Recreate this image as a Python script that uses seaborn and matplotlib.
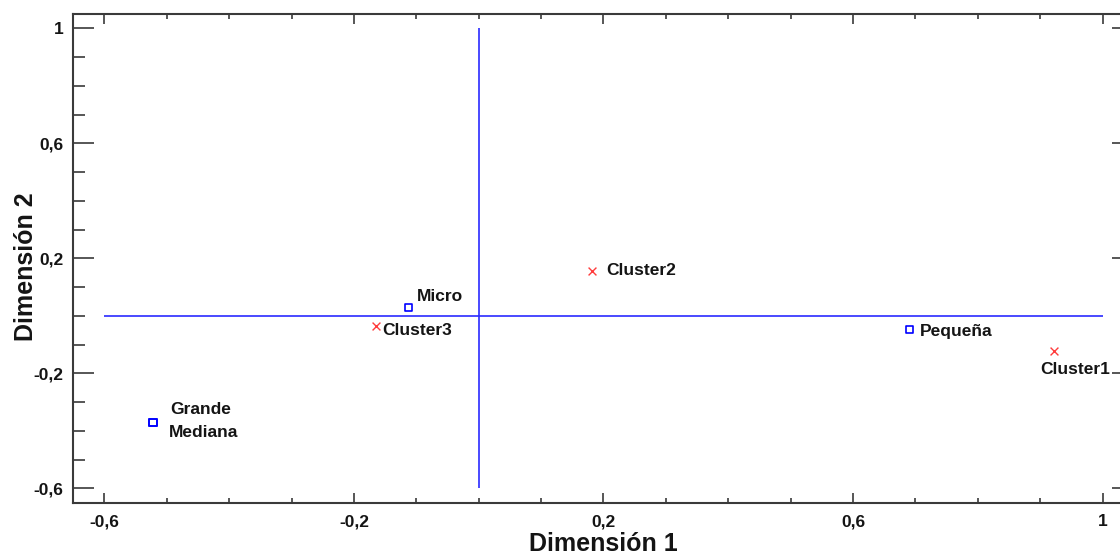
import pandas as pd
import seaborn as sns
import matplotlib.pyplot as plt
from matplotlib.ticker import FixedLocator, MultipleLocator

## Coordenadas
tamanos = ['Micro', 'Pequeña', 'Grande', 'Mediana']
tam_dim1 = [-0.113, 0.690, -0.522, -0.522]
tam_dim2 = [0.030, -0.049, -0.372, -0.372]

clusters = ['Cluster1', 'Cluster2', 'Cluster3']
clu_dim1 = [0.922, 0.181, -0.165]
clu_dim2 = [-0.121, 0.156, -0.036]

tick_vals = [-0.6, -0.2, 0.2, 0.6, 1.0]
tick_labels = ['-0,6', '-0,2', '0,2', '0,6', '1']

df_tam = pd.DataFrame({'nombre': tamanos, 'dim1': tam_dim1, 'dim2': tam_dim2})
df_clu = pd.DataFrame({'nombre': clusters, 'dim1': clu_dim1, 'dim2': clu_dim2})

# desplazamiento de cada etiqueta respecto al punto (en puntos)
label_offset = {'Micro': (6, 8), 'Pequeña': (8, -1), 'Grande': (12.5, 9.5),
                'Mediana': (11.5, -6.7), 'Cluster1': (-10, -13.4),
                'Cluster2': (10.8, 0), 'Cluster3': (5, -3.4)}

sns.set_style('white')
plt.rcParams['font.family'] = ['Liberation Sans', 'DejaVu Sans']
txt_color = '#141414'
axis_color = '#3a3a3a'

fig = plt.figure(figsize=(11.2, 5.54), dpi=100)
ax = fig.add_axes([73.3/1120, (554-503.3)/554, (1133-73.3)/1120, (503.3-14)/554])

# ejes de referencia
ax.hlines(0, tick_vals[0], tick_vals[-1], color='#2a2aff', lw=1.2, zorder=1)
ax.vlines(0, tick_vals[0], tick_vals[-1], color='#2a2aff', lw=1.2, zorder=1)

sns.scatterplot(data=df_tam, x='dim1', y='dim2', marker='s', s=26,
                facecolor='none', edgecolor='#0000ff', linewidth=1.2,
                ax=ax, zorder=3)
sns.scatterplot(data=df_clu, x='dim1', y='dim2', marker='x', s=32,
                color='#ff3b3b', linewidth=1.0, ax=ax, zorder=3)

for df in (df_tam, df_clu):
    for _, row in df.iterrows():
        ax.annotate(row['nombre'], (row['dim1'], row['dim2']),
                    xytext=label_offset[row['nombre']], textcoords='offset points',
                    ha='left', va='center', fontsize=12.5, fontweight='bold',
                    color=txt_color)

ax.set_xlim(-0.6497, 1.0486)
ax.set_ylim(-0.652, 1.0497)

for axis in (ax.xaxis, ax.yaxis):
    axis.set_major_locator(FixedLocator(tick_vals))
    axis.set_minor_locator(MultipleLocator(0.1))
ax.set_xticklabels(tick_labels, fontsize=12.5, fontweight='bold', color=txt_color)
ax.set_yticklabels(tick_labels, fontsize=12.5, fontweight='bold', color=txt_color)

ax.tick_params(axis='x', which='both', direction='in', top=True, bottom=True,
               width=1.2, color=axis_color)
ax.tick_params(axis='x', which='major', length=7.2, pad=8)
ax.tick_params(axis='x', which='minor', length=3.6)
ax.tick_params(axis='y', which='both', direction='in', left=True,
               width=1.2, color=axis_color)
ax.tick_params(axis='y', which='major', length=15, pad=7, right=True)
ax.tick_params(axis='y', which='minor', length=8.6, right=False)

for sp in ax.spines.values():
    sp.set_visible(True)
    sp.set_color(axis_color)
    sp.set_linewidth(1.5)

ax.set_xlabel('Dimensión 1', fontsize=18, fontweight='bold', color=txt_color, va='center')
ax.xaxis.set_label_coords(0.5, -0.083)
ax.set_ylabel('Dimensión 2', fontsize=18, fontweight='bold', color=txt_color,
              va='center', ha='center')
ax.yaxis.set_label_coords(-0.045, 0.483)

fig.savefig('out.png', dpi=100)
